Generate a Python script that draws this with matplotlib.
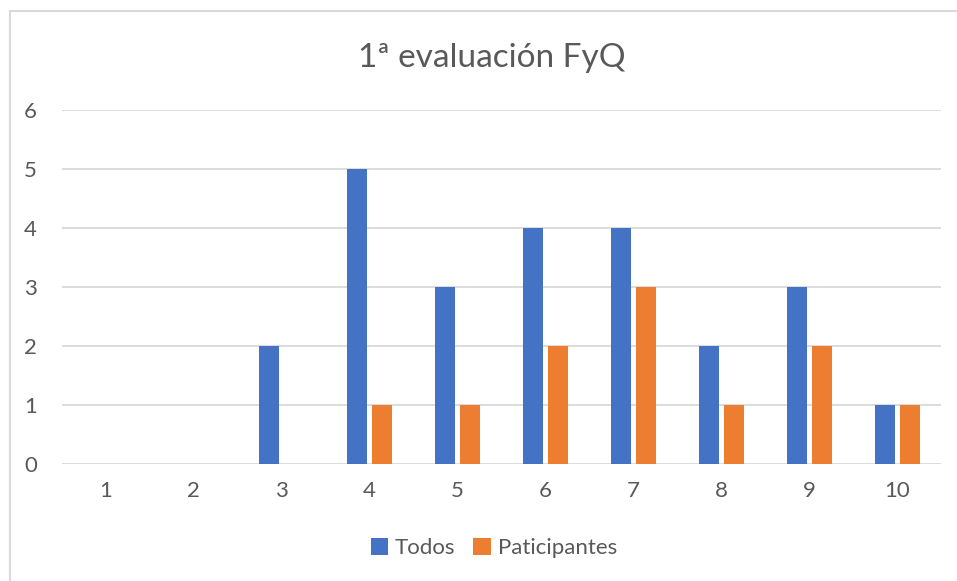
import matplotlib.pyplot as plt
import numpy as np

# notas de la 1ª evaluación
notas = ["1", "2", "3", "4", "5", "6", "7", "8", "9", "10"]
todos = [0, 0, 2, 5, 3, 4, 4, 2, 3, 1]
participantes = [0, 0, 0, 1, 1, 2, 3, 1, 2, 1]

plt.rcParams['font.family'] = ['Lato', 'DejaVu Sans']
gris = '#595959'

fig = plt.figure(figsize=(9.57, 5.81), dpi=100)
ax = fig.add_axes([0.0648, 0.2014, 0.9185, 0.6093])

x = np.arange(len(notas))
w = 0.228
ax.bar(x - 0.142, todos, w, color='#4472C4', label='Todos', zorder=3)
ax.bar(x + 0.142, participantes, w, color='#ED7D31', label='Paticipantes', zorder=3)

ax.set_xlim(-0.5, len(notas) - 0.5)
ax.set_ylim(0, 6)
ax.set_yticks(range(7))
ax.set_xticks(x)
ax.set_xticklabels(notas)
ax.grid(axis='y', color='#D9D9D9', linewidth=1.3, zorder=0)
for s in ax.spines.values():
    s.set_visible(False)
ax.tick_params(length=0, colors=gris, labelsize=16)
ax.tick_params(axis='y', pad=18)
ax.tick_params(axis='x', pad=12)

fig.text(0.514, 1 - 58 / 581, '1ª evaluación FyQ', ha='center', va='center',
         fontsize=24, color=gris)

fig.legend(loc='center', bbox_to_anchor=(0.516, 1 - 548 / 581), ncol=2,
           frameon=False, fontsize=16, labelcolor=gris, handlelength=0.8,
           handleheight=0.8, handletextpad=0.3, columnspacing=0.8)

# borde del gráfico (solo izquierda y arriba visibles en la captura)
fig.add_artist(plt.Line2D([10 / 957, 10 / 957], [0, 1 - 11 / 581], color='#D9D9D9', lw=1.5))
fig.add_artist(plt.Line2D([10 / 957, 1], [1 - 11 / 581, 1 - 11 / 581], color='#D9D9D9', lw=1.5))

fig.savefig('out.png', dpi=100)
